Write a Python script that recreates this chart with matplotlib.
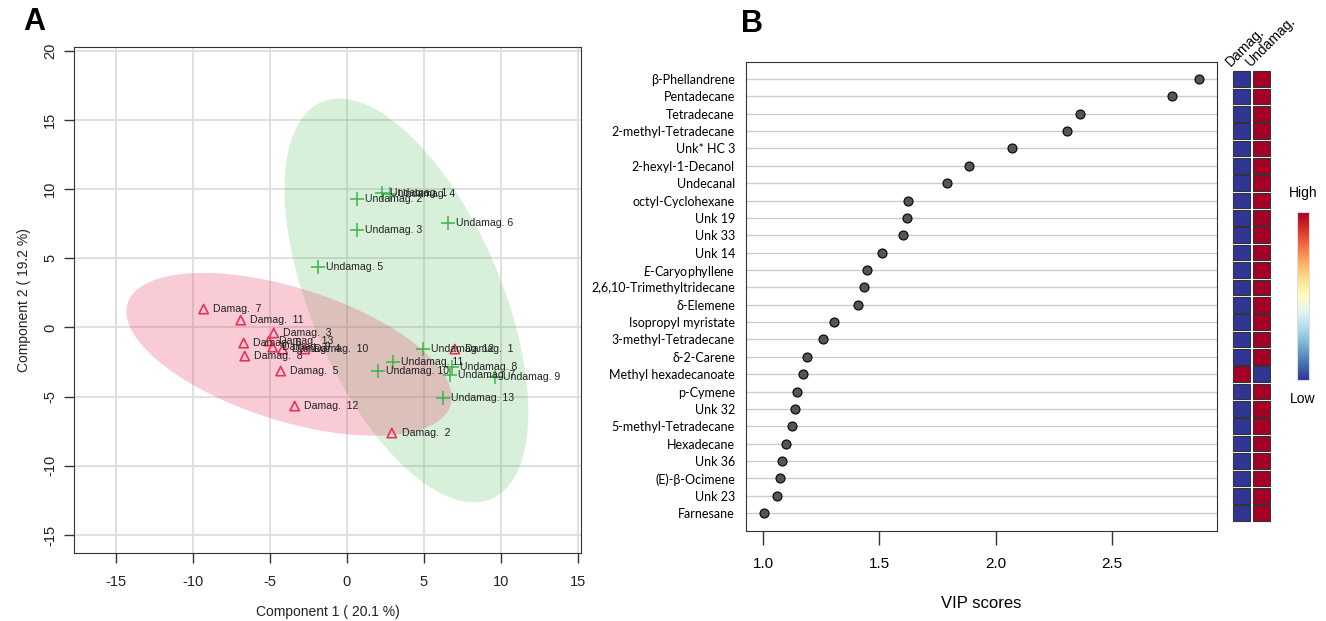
import numpy as np
import matplotlib
matplotlib.use('Agg')
import matplotlib.pyplot as plt

plt.rcParams['font.family'] = ['Liberation Sans', 'DejaVu Sans']
plt.rcParams['axes.unicode_minus'] = False
plt.rcParams['mathtext.fontset'] = 'custom'
plt.rcParams['mathtext.it'] = 'Lato:italic'
plt.rcParams['mathtext.rm'] = 'Lato'

# --- Panel A: sample scores (PLS-DA) ---
damag_x = [7.01, 2.92, -4.74, -4.16, -4.29, -6.69, -9.29, -6.62, -4.81, -2.73, -6.88, -3.38, -5.06]
damag_y = [-1.56, -7.63, -0.40, -1.56, -3.15, -1.13, 1.33, -2.07, -1.42, -1.56, 0.53, -5.68, -0.98]
undamag_x = [2.27, 0.65, 0.65, 2.79, -1.88, 6.56, 6.69, 6.82, 9.61, 2.01, 2.99, 4.94, 6.23]
undamag_y = [9.71, 9.28, 7.04, 9.64, 4.36, 7.54, -3.44, -2.86, -3.58, -3.15, -2.50, -1.56, -5.10]
damag_names = ["Damag.  %d" % i for i in range(1, 14)]
undamag_names = ["Undamag. %d" % i for i in range(1, 14)]

# --- Panel B: VIP scores ---
features = ["β-Phellandrene", "Pentadecane", "Tetradecane", "2-methyl-Tetradecane",
            "Unk* HC 3", "2-hexyl-1-Decanol", "Undecanal", "octyl-Cyclohexane",
            "Unk 19", "Unk 33", "Unk 14", "$\\mathit{E}$-Caryophyllene",
            "2,6,10-Trimethyltridecane", "δ-Elemene", "Isopropyl myristate",
            "3-methyl-Tetradecane", "δ-2-Carene", "Methyl hexadecanoate", "p-Cymene",
            "Unk 32", "5-methyl-Tetradecane", "Hexadecane", "Unk 36", "(E)-β-Ocimene",
            "Unk 23", "Farnesane"]
vip = [2.876, 2.760, 2.365, 2.305, 2.069, 1.884, 1.790, 1.622, 1.618, 1.601, 1.511,
       1.446, 1.433, 1.408, 1.305, 1.258, 1.189, 1.172, 1.146, 1.137, 1.124, 1.099,
       1.082, 1.073, 1.060, 1.004]
damag_level = [0, 0, 0, 0, 0, 0, 0, 0, 0, 0, 0, 0, 0, 0, 0, 0, 0, 1, 0, 0, 0, 0, 0, 0, 0, 0]
undamag_level = [1, 1, 1, 1, 1, 1, 1, 1, 1, 1, 1, 1, 1, 1, 1, 1, 1, 0, 1, 1, 1, 1, 1, 1, 1, 1]
group_names = ["Damag.", "Undamag."]

pink = '#E8315B'
green = '#3DB549'


def conf_ellipse(x, y, t=2.4477, n=200):
    # 95 % ellipse from the group covariance
    x = np.asarray(x)
    y = np.asarray(y)
    cov = np.cov(x, y)
    L = np.linalg.cholesky(cov)
    a = np.linspace(0, 2 * np.pi, n)
    pts = L @ np.vstack([np.cos(a), np.sin(a)]) * t
    return pts[0] + x.mean(), pts[1] + y.mean()


fig = plt.figure(figsize=(13.26, 6.21), dpi=100)

# ---------------- A ----------------
ax = fig.add_axes([0.0558, 0.1095, 0.3824, 0.8148])
ex, ey = conf_ellipse(undamag_x, undamag_y)
ax.fill(ex, ey, color=green, alpha=0.2, lw=0, zorder=1)
ex, ey = conf_ellipse(damag_x, damag_y)
ax.fill(ex, ey, color=pink, alpha=0.25, lw=0, zorder=1)

ax.scatter(damag_x, damag_y, marker='^', s=45, facecolors='none', edgecolors=pink,
           linewidths=1.2, zorder=3)
ax.scatter(undamag_x, undamag_y, marker='+', s=90, color=green, linewidths=1.1, zorder=3)
for x, y, s in zip(damag_x, damag_y, damag_names):
    ax.annotate(s, (x, y), xytext=(7, 0), textcoords='offset points', fontsize=7.6,
                va='center', ha='left', color='#222222', zorder=4)
for x, y, s in zip(undamag_x, undamag_y, undamag_names):
    ax.annotate(s, (x, y), xytext=(6, 0), textcoords='offset points', fontsize=7.6,
                va='center', ha='left', color='#222222', zorder=4)

ax.set_xlim(-17.7, 15.2)
ax.set_ylim(-16.3, 20.27)
ax.set_xticks(range(-15, 16, 5))
ax.set_yticks(range(-15, 21, 5))
ax.grid(True, color='#DDDDDD', lw=1.3, zorder=0)
ax.set_axisbelow(True)
ax.tick_params(direction='out', length=7, width=1, color='#333333', labelsize=10.5,
               labelcolor='#222222')
ax.tick_params(axis='x', pad=9)
ax.tick_params(axis='y', pad=5)
for lab in ax.get_yticklabels():
    lab.set_rotation(90)
    lab.set_va('center')
for sp in ax.spines.values():
    sp.set_color('#333333')
ax.set_xlabel('Component 1 ( 20.1 %)', fontsize=10, labelpad=11, color='#222222')
ax.set_ylabel('Component 2 ( 19.2 %)', fontsize=10, labelpad=9, color='#222222')
fig.text(0.026, 0.965, 'A', fontsize=22, fontweight='bold', ha='center', va='center')

# ---------------- B ----------------
bx = fig.add_axes([0.5626, 0.1449, 0.3552, 0.7553])
yy = np.arange(len(features))
for yv in yy:
    bx.axhline(yv, color='#CCCCCC', lw=1, zorder=1)
bx.scatter(vip, yy, s=42, color='#555555', edgecolors='black', linewidths=0.8, zorder=3)
bx.set_xlim(0.927, 2.952)
bx.set_ylim(len(features) - 1 + 1.03, -0.98)
bx.set_xticks([1.0, 1.5, 2.0, 2.5])
bx.set_xticklabels(['1.0', '1.5', '2.0', '2.5'])
bx.set_yticks(yy)
bx.set_yticklabels(features, family=['Lato', 'DejaVu Sans'], fontsize=9)
bx.tick_params(axis='y', length=0, pad=8)
bx.tick_params(axis='x', direction='out', length=10, width=1, color='#333333',
               labelsize=11, pad=9)
for sp in bx.spines.values():
    sp.set_color('#333333')
bx.set_xlabel('VIP scores', fontsize=12, labelpad=18)
fig.text(0.567, 0.962, 'B', fontsize=22, fontweight='bold', ha='center', va='center')

# heatmap of group levels
cmap = plt.get_cmap('RdYlBu_r')
hx = fig.add_axes([0.9284, 0.1449, 0.0302, 0.7553])
for j, levels in enumerate([damag_level, undamag_level]):
    hx.bar([j] * len(levels), [0.9] * len(levels), bottom=yy - 0.45, width=0.85,
           color=[cmap(float(v)) for v in levels], edgecolor='#333333', linewidth=0.8)
    hx.text(j - 0.4, -0.6, group_names[j], rotation=45, ha='left', va='bottom',
            fontsize=10, rotation_mode='anchor')
hx.set_xlim(-0.5, 1.5)
hx.set_ylim(len(features) - 1 + 1.03, -0.98)
hx.axis('off')

# colour key
cx = fig.add_axes([0.9781, 0.3881, 0.0091, 0.2705])
cx.imshow(np.linspace(0, 1, 256)[:, None], aspect='auto', cmap=cmap, origin='lower')
cx.set_xticks([])
cx.set_yticks([])
for sp in cx.spines.values():
    sp.set_color('#DDDDDD')
cx.text(0.5, 1.07, 'High', transform=cx.transAxes, ha='center', va='bottom', fontsize=10)
cx.text(0.5, -0.07, 'Low', transform=cx.transAxes, ha='center', va='top', fontsize=10)

fig.savefig('out.png', dpi=100)
